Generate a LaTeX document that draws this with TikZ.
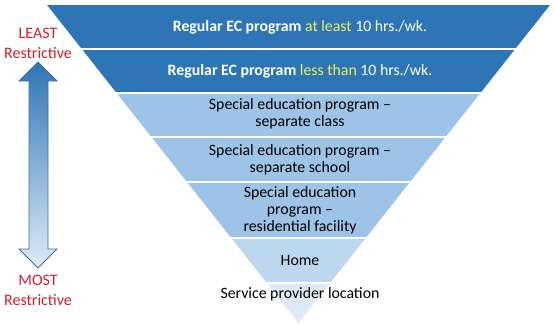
\documentclass[tikz,border=0pt]{standalone}
\usepackage{fontspec}
\setmainfont{Carlito}
\definecolor{ecdark}{HTML}{2E75B6}
\definecolor{eclight}{HTML}{9DC3E6}
\definecolor{echome}{HTML}{BDD7EE}
\definecolor{ecpale}{HTML}{DEEBF7}
\definecolor{ecyellow}{HTML}{EEEE55}
\definecolor{ecred}{HTML}{D0202E}
\definecolor{ecedge}{HTML}{41719C}
\tikzset{
  level/.style = {align=center, inner sep=0pt, font=\fontsize{15.8}{17}\selectfont},
  toplevel/.style = {level, text=white},
  restrict/.style = {align=center, inner sep=0pt, text=ecred, font=\fontsize{16}{20}\selectfont}
}
\newcommand{\band}[3]{%
  \pgfmathsetmacro{\wa}{0.7909*(323-#1)}%
  \pgfmathsetmacro{\wb}{0.7909*(323-#2)}%
  \fill[#3] ({298.5-\wa},#1) -- ({298.5+\wa},#1) -- ({298.5+\wb},#2) -- ({298.5-\wb},#2) -- cycle;}
\newcommand{\hl}[1]{{\mdseries\color{ecyellow}#1}}

\begin{document}
\begin{tikzpicture}[x=1pt,y=-1pt]
  \useasboundingbox (0,0) rectangle (555,327);
  \band{5}{49}{ecdark}
  \band{49}{93}{ecdark}
  \band{93}{137}{eclight}
  \band{137}{182}{eclight}
  \band{182}{238}{eclight}
  \band{238}{283}{echome}
  \band{283}{323}{ecpale}
  \foreach \y in {49,93,137,182,238,283}
    \draw[white,line width=1.5pt] (40,\y) -- (560,\y);
  \node[toplevel] (lvl1) at (300,27) {\textbf{Regular EC program} \hl{at least} 10 hrs./wk.};
  \node[toplevel] (lvl2) at (300,71) {\textbf{Regular EC program} \hl{less than} 10 hrs./wk.};
  \node[level] (lvl3) at (300,114) {Special education program --\\separate class};
  \node[level] (lvl4) at (300,160) {Special education program --\\separate school};
  \node[level] (lvl5) at (300,210) {Special education\\program --\\residential facility};
  \node[level] (lvl6) at (300,260) {Home};
  \node[level] (lvl7) at (300,294) {Service provider location};
  \node[restrict] (least) at (38,43) {LEAST\\Restrictive};
  \node[restrict] (most) at (38,290) {MOST\\Restrictive};
  \shade[top color=ecdark,bottom color=ecpale,draw=ecedge,line width=0.8pt]
    (38,62) -- (57,81) -- (48,81) -- (48,249) -- (57,249) -- (38,268) -- (19,249)
    -- (29,249) -- (29,81) -- (19,81) -- cycle;
\end{tikzpicture}
\end{document}
